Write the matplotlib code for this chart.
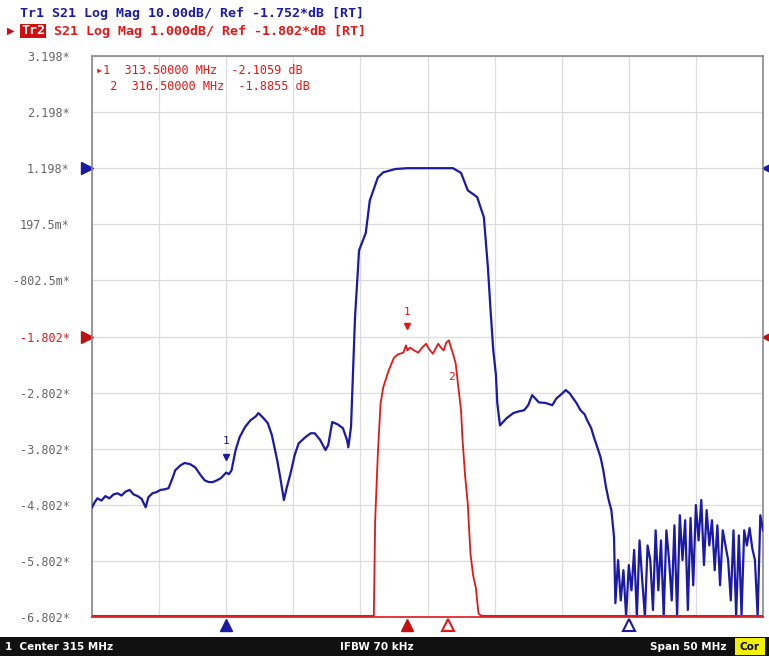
import numpy as np
import matplotlib
matplotlib.use('Agg')
import matplotlib.pyplot as plt
from matplotlib.patches import Rectangle
import matplotlib.transforms as mtransforms

# ---- data (frequency in MHz, S21 in dB) ----
tr1_freq = [290.0, 290.2, 290.4, 290.7, 291.0, 291.3, 291.6, 291.9, 292.2, 292.5,
            292.8, 293.1, 293.4, 293.7, 294.0, 294.2, 294.5, 294.8, 295.1, 295.4,
            295.7, 296.0, 296.2, 296.6, 296.9, 297.3, 297.7, 298.1, 298.4, 298.7,
            299.0, 299.3, 299.6, 300.0, 300.2, 300.4, 300.7, 301.0, 301.4, 301.8,
            302.2, 302.4, 302.7, 303.1, 303.4, 303.8, 304.0, 304.3, 304.5, 304.8,
            305.1, 305.4, 305.9, 306.3, 306.6, 307.0, 307.4, 307.6, 307.9, 308.3,
            308.7, 309.0, 309.1, 309.3, 309.6, 309.9, 310.4, 310.7, 311.3, 311.7,
            312.6, 313.5, 314.5, 316.0, 316.9, 317.5, 318.0, 318.7, 319.2, 319.5,
            319.7, 319.9, 320.1, 320.2, 320.4, 320.9, 321.4, 321.8, 322.2, 322.5,
            322.8, 323.3, 323.8, 324.3, 324.6, 324.9, 325.3, 325.6, 325.8, 326.1,
            326.4, 326.7, 326.9, 327.2, 327.4, 327.6, 327.9, 328.1, 328.3, 328.5,
            328.7, 328.9, 329.0,
            329.2, 329.4, 329.6, 329.8, 330.0, 330.2, 330.4, 330.6, 330.8, 331.0,
            331.2, 331.4, 331.6, 331.8, 332.0, 332.2, 332.4, 332.6, 332.8, 333.0,
            333.2, 333.4, 333.6, 333.8, 334.0, 334.2, 334.4, 334.6, 334.8, 335.0,
            335.2, 335.4, 335.6, 335.8, 336.0, 336.2, 336.4, 336.6, 336.8, 337.0,
            337.2, 337.4, 337.6, 337.8, 338.0, 338.2, 338.4, 338.6, 338.8, 339.0,
            339.2, 339.4, 339.6, 339.8, 340.0]
tr1_db = [-62.2, -61.3, -60.6, -61.0, -60.2, -60.6, -59.9, -59.7, -60.1, -59.4,
          -59.1, -59.9, -60.2, -60.7, -62.2, -60.4, -59.7, -59.5, -59.1, -59.0,
          -58.8, -57.0, -55.6, -54.7, -54.3, -54.5, -55.1, -56.5, -57.4, -57.7,
          -57.7, -57.4, -57.0, -56.0, -56.3, -55.6, -52.0, -49.7, -47.9, -46.7,
          -46.0, -45.4, -46.1, -47.2, -49.3, -53.8, -56.5, -60.9, -58.8, -56.1,
          -52.9, -50.8, -49.7, -49.0, -49.0, -50.2, -52.0, -51.1, -47.0, -47.4,
          -48.1, -50.2, -51.5, -47.9, -28.3, -16.4, -13.3, -7.5, -3.4, -2.5,
          -1.9, -1.75, -1.75, -1.75, -1.75, -2.6, -5.7, -6.9, -10.5, -19.4,
          -27.1, -34.2, -38.6, -43.6, -47.6, -46.3, -45.4, -45.1, -44.9, -44.0,
          -42.2, -43.5, -43.6, -44.0, -42.8, -42.2, -41.3, -41.9, -42.6, -43.6,
          -44.9, -45.6, -46.7, -48.1, -49.7, -51.1, -53.3, -55.6, -58.6, -60.9,
          -62.7, -67.5, -79.3,
          -71.6, -78.8, -73.4, -85.0, -72.5, -77.0, -69.8, -85.0, -68.1, -75.2,
          -85.0, -69.0, -71.6, -80.5, -66.3, -77.0, -68.1, -85.0, -66.3, -71.6,
          -78.8, -65.4, -85.0, -63.6, -71.6, -64.5, -80.5, -64.1, -76.1, -61.8,
          -68.1, -60.9, -72.5, -62.7, -69.0, -64.5, -73.4, -65.4, -76.1, -66.3,
          -69.0, -71.6, -78.8, -66.3, -85.0, -67.2, -81.4, -66.3, -69.0, -65.9,
          -69.5, -71.6, -85.0, -63.6, -66.3]

tr2_freq = [290.0, 310.7, 311.0, 311.1, 311.3, 311.5, 311.7, 312.1, 312.5, 312.8,
            313.2, 313.4, 313.5, 313.7, 314.0, 314.3, 314.6, 314.9, 315.1, 315.4,
            315.6, 315.8, 316.0, 316.2, 316.4, 316.6, 316.7, 316.9, 317.1, 317.3,
            317.5, 317.6, 317.8, 318.0, 318.2, 318.4, 318.6, 318.8, 319.0, 340.0]
tr2_db = [-9.0, -9.0, -6.9, -5.08, -3.89, -3.0, -2.71, -2.41, -2.18, -2.12,
          -2.09, -1.96, -2.05, -2.0, -2.05, -2.09, -2.0, -1.93, -2.02, -2.11,
          -2.02, -1.93, -2.0, -2.05, -1.91, -1.87, -1.96, -2.11, -2.28, -2.71,
          -3.12, -3.6, -4.28, -4.78, -5.67, -6.06, -6.28, -6.74, -7.0, -9.0]

tr1_scale, tr1_ref = 10.0, -1.752   # dB/div, ref value
tr2_scale, tr2_ref = 1.0, -1.802
ref_pos_tr1, ref_pos_tr2 = 1.198, -1.802   # where each ref sits on the grid

y_ticks = [3.198, 2.198, 1.198, 0.1975, -0.8025, -1.802, -2.802, -3.802, -4.802, -5.802, -6.802]
y_labels = ['3.198*', '2.198*', '1.198*', '197.5m*', '-802.5m*', '-1.802*',
            '-2.802*', '-3.802*', '-4.802*', '-5.802*', '-6.802*']

mk_tr1 = [300.0, 330.0]
mk_tr2 = [313.5, 316.5]
mk_tr2_val = [-2.1059, -1.8855]

BLUE = '#1a1aa6'
RED = '#e01818'
MONO = 'DejaVu Sans Mono'

fig = plt.figure(figsize=(7.69, 6.56), dpi=100)
fig.patch.set_facecolor('white')
ax = fig.add_axes([92 / 769, 1 - 617 / 656, 671 / 769, 561 / 656])

ylo, yhi = -6.802, 3.198
t1 = ref_pos_tr1 + (np.array(tr1_db) - tr1_ref) / tr1_scale
t2 = ref_pos_tr2 + (np.array(tr2_db) - tr2_ref) / tr2_scale
t1 = np.clip(t1, ylo + 0.01, yhi)
t2 = np.clip(t2, ylo + 0.02, yhi)

ax.plot(tr1_freq, t1, color=BLUE, lw=1.6, solid_joinstyle='round', zorder=3)
ax.plot(tr2_freq, t2, color=RED, lw=1.3, zorder=4)

ax.set_xlim(290, 340)
ax.set_ylim(ylo, yhi)
ax.set_xticks(np.arange(290, 341, 5))
ax.set_xticklabels([])
ax.set_yticks(y_ticks)
ax.set_yticklabels(y_labels, family=MONO, fontsize=8.5, color='#666666')
for lab in ax.get_yticklabels():
    if lab.get_text() == '-1.802*':
        lab.set_color(RED)
ax.tick_params(length=0, pad=16)
ax.grid(True, color='#dcdcdc', lw=0.9)
for s in ax.spines.values():
    s.set_color('#888888')
    s.set_linewidth(1.2)
ax.spines['bottom'].set_color(RED)

# marker glyphs on the traces
ax.text(mk_tr2[0], -1.42, '1', color=RED, fontsize=8, family=MONO, ha='center')
ax.plot([mk_tr2[0]], [-1.62], marker='v', ms=4, color=RED, zorder=5)
ax.text(mk_tr2[1] + 0.3, -2.58, '2', color=RED, fontsize=8, family=MONO, ha='center')
ax.text(mk_tr1[0], -3.72, '1', color=BLUE, fontsize=8, family=MONO, ha='center')
ax.plot([mk_tr1[0]], [-3.95], marker='v', ms=4, color=BLUE, zorder=5)

# marker readout
ax.text(0.006, 0.985, '\u25b81  313.50000 MHz  -2.1059 dB', transform=ax.transAxes,
        color=RED, fontsize=8.5, family=MONO, va='top')
ax.text(0.006, 0.957, '  2  316.50000 MHz  -1.8855 dB', transform=ax.transAxes,
        color=RED, fontsize=8.5, family=MONO, va='top')

# stimulus markers under the grid
trb = mtransforms.blended_transform_factory(ax.transData, ax.transAxes)
ax.plot([mk_tr1[0]], [-0.014], marker='^', ms=8, color=BLUE, transform=trb, clip_on=False)
ax.plot([mk_tr1[1]], [-0.014], marker='^', ms=8, mfc='white', mec=BLUE, mew=1.5,
        transform=trb, clip_on=False)
ax.plot([mk_tr2[0]], [-0.014], marker='^', ms=8, color='#c01010', transform=trb, clip_on=False)
ax.plot([mk_tr2[1]], [-0.014], marker='^', ms=8, mfc='white', mec=RED, mew=1.5,
        transform=trb, clip_on=False)

# reference level arrows on both sides
trl = mtransforms.blended_transform_factory(ax.transAxes, ax.transData)
for yy, c in [(ref_pos_tr1, BLUE), (ref_pos_tr2, '#c01010')]:
    ax.plot([-0.008], [yy], marker='>', ms=9, color=c, transform=trl, clip_on=False)
    ax.plot([1.006], [yy], marker='<', ms=7, color=c, transform=trl, clip_on=False)

# header lines
fig.text(20 / 769, 1 - 14 / 656, 'Tr1 S21 Log Mag 10.00dB/ Ref -1.752*dB [RT]',
         color=BLUE, fontsize=9.5, family=MONO, weight='bold', va='center')
fig.text(54 / 769, 1 - 31 / 656, 'S21 Log Mag 1.000dB/ Ref -1.802*dB [RT]',
         color=RED, fontsize=9.5, family=MONO, weight='bold', va='center')
fig.text(21 / 769, 1 - 31 / 656, 'Tr2', color='white', fontsize=9.5, family=MONO,
         weight='bold', va='center',
         bbox=dict(boxstyle='square,pad=0.05', fc='#d01010', ec='none'))
fig.text(7 / 769, 1 - 31 / 656, '\u25b6', color='#c01010', fontsize=7, va='center')

# status bar
fig.patches.append(Rectangle((0, 0), 1, 19 / 656, transform=fig.transFigure,
                             fc='#111111', ec='none', zorder=0))
fig.patches.append(Rectangle((735 / 769, 1 / 656), 30 / 769, 17 / 656,
                             transform=fig.transFigure, fc='#f2f200', ec='none', zorder=1))
fig.text(5 / 769, 9 / 656, '1  Center 315 MHz', color='white', fontsize=7.5,
         weight='bold', va='center')
fig.text(340 / 769, 9 / 656, 'IFBW 70 kHz', color='white', fontsize=7.5,
         weight='bold', va='center')
fig.text(650 / 769, 9 / 656, 'Span 50 MHz', color='white', fontsize=7.5,
         weight='bold', va='center')
fig.text(750 / 769, 9 / 656, 'Cor', color='black', fontsize=7.5,
         weight='bold', va='center', ha='center')

fig.savefig('out.png', dpi=100)
